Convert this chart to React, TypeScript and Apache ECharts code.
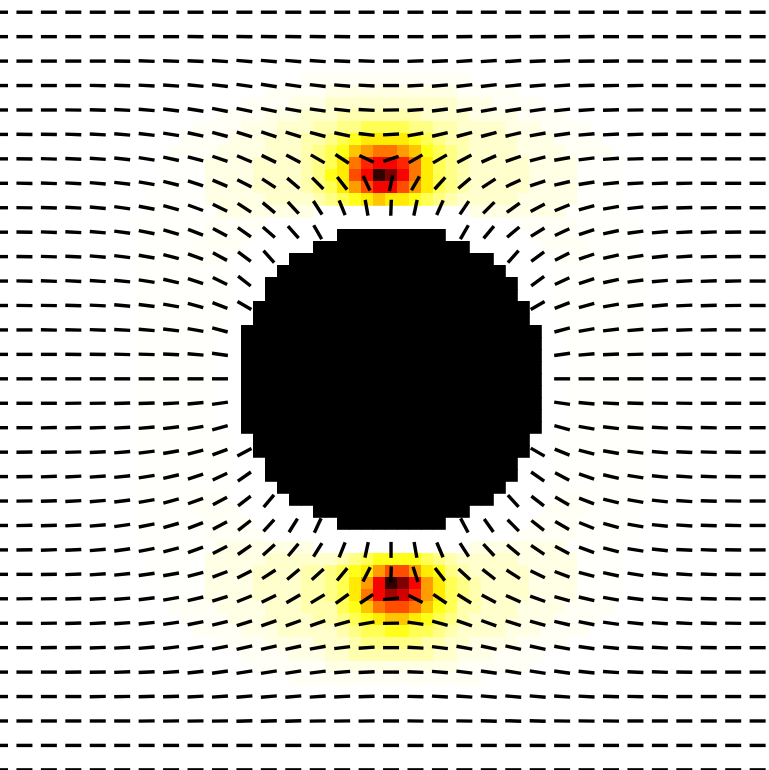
import { useEffect, useRef } from 'react';
import * as echarts from 'echarts';

// ---------- heat field (64 x 64 cells), run-length rows: "n*c" or literal chars ----------
// '.' = empty, 'o' faintest, '1'..'9','a'..'j' = increasing intensity, '#' = cylinder (maximum)
const heatRows: string[] = [
  '64*.', '64*.', '64*.', '64*.', '64*.', '64*.',
  '25*. 14*1 25*.',
  '22*. 5*1 11*2 5*1 21*.',
  '20*. 4*1 3*2 11*3 3*2 4*1 19*.',
  '18*. 4*1 3*2 333444444433332 3*2 4*1 17*.',
  '16*. 4*1 3*2 2*3 344556666554433 2*3 3*2 4*1 15*.',
  '15*. 4*1 3*2 3*3 445678888765443 3*3 3*2 4*1 14*.',
  '14*. 4*1 4*2 3*3 45679abba976543 3*3 4*2 4*1 13*.',
  '13*. 4*o 4*2 4*3 4568bdeedb86543 4*3 4*2 4*o 12*.',
  '13*. 4*o 4*2 4*3 4578cejheb86543 4*3 4*2 4*o 12*.',
  '12*. 5*o 4*2 4*3 4568aceeca86543 4*3 4*2 4*o 12*.',
  '12*. 5*o 5*2 3*3 345678988765433 3*3 5*2 4*o 12*.',
  '12*. 6*o 8*2 13*. 8*2 5*o 12*.',
  '11*. 6*o 5*1 21*. 5*1 5*o 11*.',
  '11*. 6*o 4*1 7*. 9*# 7*. 4*1 5*o 11*.',
  '11*. 5*o 4*1 6*. 13*# 6*. 4*1 4*o 11*.',
  '11*. 5*o 3*1 5*. 17*# 5*. 3*1 5*o 10*.',
  '11*. 8*o 4*. 19*# 4*. 8*o 10*.',
  '11*. 8*o 3*. 21*# 3*. 8*o 10*.',
  '11*. 8*o 3*. 21*# 3*. 8*o 10*.',
  '11*. 8*o 2*. 23*# 2*. 8*o 10*.',
  '11*. 8*o 2*. 23*# 2*. 8*o 10*.',
  '11*. 7*o 2*. 25*# 2*. 7*o 10*.',
  '11*. 7*o 2*. 25*# 2*. 7*o 10*.',
  '11*. 7*o 2*. 25*# 2*. 7*o 10*.',
  '11*. 7*o 2*. 25*# 2*. 7*o 10*.',
  '11*. 7*o 2*. 25*# 2*. 7*o 10*.',
  '11*. 7*o 2*. 25*# 2*. 7*o 10*.',
  '11*. 7*o 2*. 25*# 2*. 7*o 10*.',
  '11*. 7*o 2*. 25*# 2*. 7*o 10*.',
  '11*. 7*o 2*. 25*# 2*. 7*o 10*.',
  '11*. 8*o 2*. 23*# 2*. 8*o 10*.',
  '11*. 8*o 2*. 23*# 2*. 8*o 10*.',
  '11*. 8*o 3*. 21*# 3*. 8*o 10*.',
  '11*. 8*o 3*. 21*# 3*. 8*o 10*.',
  '11*. 8*o 4*. 19*# 4*. 8*o 10*.',
  '11*. 5*o 3*1 5*. 17*# 5*. 3*1 5*o 10*.',
  '11*. 5*o 4*1 6*. 13*# 6*. 4*1 4*o 11*.',
  '11*. 6*o 4*1 7*. 9*# 7*. 4*1 5*o 11*.',
  '11*. 6*o 5*1 21*. 5*1 5*o 11*.',
  '12*. 6*o 8*2 13*. 8*2 5*o 12*.',
  '12*. 5*o 5*2 3*3 333456777765433 3*3 5*2 4*o 12*.',
  '12*. 5*o 4*2 4*3 445678acca87543 4*3 4*2 4*o 12*.',
  '13*. 4*o 4*2 4*3 44568aejhea8654 4*3 4*2 4*o 12*.',
  '13*. 4*o 4*2 4*3 44568begfda8654 4*3 4*2 4*o 12*.',
  '14*. 4*1 4*2 3*3 444679bccb97644 3*3 4*2 4*1 13*.',
  '15*. 4*1 3*2 3*3 344567899876543 3*3 3*2 4*1 14*.',
  '16*. 4*1 3*2 2*3 333456677665433 2*3 3*2 4*1 15*.',
  '18*. 4*1 3*2 233345555544332 3*2 4*1 17*.',
  '20*. 4*1 3*2 2*3 7*4 2*3 3*2 4*1 19*.',
  '21*. 6*1 11*2 6*1 20*.',
  '24*. 16*1 24*.',
  '64*.', '64*.', '64*.', '64*.', '64*.', '64*.', '64*.',
];

const heatLevels: Record<string, number> = {
  o: 0.4, '1': 1, '2': 2.5, '3': 5, '4': 8, '5': 12, '6': 17, '7': 23, '8': 28, '9': 34,
  a: 40, b: 46, c: 52, d: 58, e: 64, f: 70, g: 76, h: 82, i: 88, j: 93, '#': 100,
};

// ---------- dash (director) angles, 32 rows x 32 columns, degrees, null = hidden ----------
const n = null;
const dashAngles: (number | null)[][] = [
  [0,0,0,0,0,0,0,0,0,0,0,0,0,0,0,0, 0, 0,0,0,0,0,0,0,0,0,0,0,0,0,0,0],
  [0,0,0,0,0,0,0,0,-1,-1,-1,-1,-1,-1,-1,0, 0, 0,1,1,1,1,1,1,1,0,0,0,0,0,0,0],
  [0,0,0,0,0,-1,-2,-2,-3,-4,-5,-5,-5,-4,-3,-2, 0, 2,3,4,4,4,3,2,1,1,0,0,0,0,0,0],
  [0,0,0,0,-1,-2,-3,-4,-6,-7,-8,-9,-8,-7,-5,-3, 0, 3,5,7,7,6,5,4,2,1,1,0,0,0,0,0],
  [0,0,0,-1,-2,-3,-5,-7,-9,-11,-12,-12,-10,-8,-6,-3, 1, 4,7,9,10,9,8,6,4,2,1,0,0,0,0,0],
  [0,-1,-1,-2,-3,-5,-7,-9,-12,-15,-17,-18,-17,-15,-12,-7, 3, 10,13,15,15,13,10,8,5,3,2,1,0,0,0,0],
  [0,-1,-2,-3,-4,-6,-9,-12,-15,-19,-23,-26,-28,-30,-33,-25, 18, 30,30,28,24,19,14,10,7,4,2,1,0,0,0,0],
  [0,-1,-2,-3,-5,-7,-10,-14,-18,-23,-27,-33,-40,-45,-52,-65, 78, 60,48,40,33,25,18,13,9,6,3,2,1,0,0,0],
  [0,-1,-2,-3,-5,-8,-11,-15,-20,-26,-33,-40,-47,-57,-68,-80, 88, 78,66,56,45,36,28,22,15,10,6,3,2,1,0,0],
  [0,-1,-2,-3,-5,-8,-11,-16,-21,-28,-35,-41,-48,-60,n,n, n, n,n,60,50,40,32,25,18,12,8,5,3,2,1,0],
  [0,-1,-2,-3,-5,-7,-10,-15,-20,-28,-37,-48,n,n,n,n, n, n,n,n,n,48,36,27,19,13,9,6,4,2,1,0],
  [0,-1,-2,-3,-4,-6,-9,-13,-18,-26,-38,n,n,n,n,n, n, n,n,n,n,n,36,25,18,12,8,5,3,2,1,0],
  [0,-1,-1,-2,-3,-5,-7,-10,-15,-21,-30,n,n,n,n,n, n, n,n,n,n,n,30,21,15,10,7,5,3,2,1,0],
  [0,0,-1,-1,-2,-3,-5,-7,-10,-15,n,n,n,n,n,n, n, n,n,n,n,n,n,15,10,7,5,3,2,1,0,0],
  [0,0,0,-1,-1,-2,-2,-3,-5,-8,n,n,n,n,n,n, n, n,n,n,n,n,n,8,5,3,2,1,1,0,0,0],
  [0,0,0,0,0,0,0,0,0,0,n,n,n,n,n,n, n, n,n,n,n,n,n,0,0,0,0,0,0,0,0,0],
  [0,0,0,1,1,2,2,3,5,8,n,n,n,n,n,n, n, n,n,n,n,n,n,-8,-5,-3,-2,-1,-1,0,0,0],
  [0,0,1,1,2,3,5,7,10,15,n,n,n,n,n,n, n, n,n,n,n,n,n,-15,-10,-7,-5,-3,-2,-1,0,0],
  [0,1,1,2,3,5,7,10,15,20,28,n,n,n,n,n, n, n,n,n,n,n,-30,-22,-15,-10,-7,-5,-3,-2,-1,0],
  [0,1,2,3,4,6,9,13,18,25,35,n,n,n,n,n, n, n,n,n,n,n,-35,-28,-19,-13,-9,-6,-4,-2,-1,0],
  [0,1,2,3,5,7,10,15,20,28,38,50,n,n,n,n, n, n,n,n,n,-48,-38,-30,-21,-14,-10,-6,-4,-2,-1,0],
  [0,1,2,3,5,8,11,16,21,28,38,48,58,65,n,n, n, n,n,-62,-55,-45,-38,-30,-22,-15,-10,-6,-4,-2,-1,0],
  [0,1,2,3,5,8,11,15,20,27,35,42,50,58,68,78, 90, -80,-67,-57,-47,-40,-34,-28,-20,-14,-9,-6,-3,-2,-1,0],
  [0,0,1,2,4,6,8,10,14,21,27,33,40,42,50,63, 88, -72,-52,-43,-38,-33,-26,-21,-15,-12,-9,-6,-4,-2,-1,0],
  [0,1,1,2,3,5,7,10,13,17,22,26,30,31,36,34, 6, -27,-34,-32,-28,-24,-20,-16,-13,-10,-7,-5,-3,-2,-1,0],
  [0,0,1,2,3,4,6,8,11,14,17,19,20,19,15,10, 1, -8,-15,-19,-20,-18,-16,-13,-11,-8,-6,-4,-3,-2,-1,0],
  [0,0,1,1,2,3,5,7,9,11,13,13,12,10,7,4, 0, -3,-7,-10,-12,-13,-12,-10,-8,-6,-4,-3,-2,-1,0,0],
  [0,0,0,1,1,2,3,4,6,8,9,9,9,7,5,3, 0, -2,-5,-7,-8,-9,-9,-8,-6,-4,-3,-2,-1,0,0,0],
  [0,0,0,0,1,1,2,2,3,4,5,5,5,4,3,2, 0, -1,-3,-4,-5,-5,-5,-4,-3,-2,-1,-1,0,0,0,0],
  [0,0,0,0,0,0,1,1,1,1,2,2,2,1,1,1, 0, -1,-1,-1,-2,-2,-2,-1,-1,-1,0,0,0,0,0,0],
  [0,0,0,0,0,0,0,0,0,0,0,0,0,0,0,0, 0, 0,0,0,0,0,0,0,0,0,0,0,0,0,0,0],
  [0,0,0,0,0,0,0,0,0,0,0,0,0,0,0,0, 0, 0,0,0,0,0,0,0,0,0,0,0,0,0,0,0],
];

// hot_r colour ramp, sampled every 5 %
const hotColors = [
  '#ffffff', '#ffffcd', '#ffff9a', '#ffff68', '#ffff36', '#ffff04', '#ffe000',
  '#ffbe00', '#ff9d00', '#ff7c00', '#ff5a00', '#ff3900', '#ff1700', '#f40000',
  '#d20000', '#ae0000', '#8c0000', '#690000', '#460000', '#230000', '#000000',
];

const CELL_COUNT = 64;
const DASH_SPACING = 24.44;
const DASH_LEN = 16;

function decodeRow(s: string): string {
  let out = '';
  for (const tok of s.split(' ')) {
    const k = tok.indexOf('*');
    if (k > 0) out += tok.slice(k + 1).repeat(parseInt(tok.slice(0, k), 10));
    else out += tok;
  }
  return out;
}

const heatData: number[][] = [];
heatRows.forEach((row, r) => {
  const s = decodeRow(row);
  for (let c = 0; c < Math.min(s.length, CELL_COUNT); c++) {
    const v = heatLevels[s[c]];
    if (v !== undefined) heatData.push([c, r, v]);
  }
});

const dashData: number[][] = [];
dashAngles.forEach((row, j) => {
  row.forEach((a, i) => {
    if (a !== null) dashData.push([i, j, a]);
  });
});

export default function App() {
  const ref = useRef<HTMLDivElement>(null);
  useEffect(() => {
    if (!ref.current) return;
    const chart = echarts.init(ref.current, undefined, { renderer: 'svg' });
    chart.setOption({
      animation: false,
      backgroundColor: '#ffffff',
      grid: [
        { left: 0, top: 0, width: 769, height: 770 },
        { left: 1, top: 1, width: 768, height: 768 },
      ],
      xAxis: [
        { type: 'value', gridIndex: 0, min: 0, max: 769 / DASH_SPACING, show: false, splitLine: { show: false } },
        { type: 'value', gridIndex: 1, min: 0, max: CELL_COUNT, show: false, splitLine: { show: false } },
      ],
      yAxis: [
        { type: 'value', gridIndex: 0, min: -0.5, max: 770 / DASH_SPACING - 0.5, inverse: true, show: false, splitLine: { show: false } },
        { type: 'value', gridIndex: 1, min: 0, max: CELL_COUNT, inverse: true, show: false, splitLine: { show: false } },
      ],
      visualMap: {
        type: 'continuous',
        show: false,
        min: 0,
        max: 100,
        seriesIndex: 0,
        dimension: 2,
        inRange: { color: hotColors },
      },
      series: [
        {
          type: 'custom',
          xAxisIndex: 1,
          yAxisIndex: 1,
          data: heatData,
          silent: true,
          clip: false,
          z: 1,
          renderItem: (params: any, api: any) => {
            const p = api.coord([api.value(0), api.value(1)]);
            const s = api.size([1, 1]);
            return {
              type: 'rect',
              shape: { x: Math.round(p[0]), y: Math.round(p[1]), width: Math.abs(s[0]) + 0.8, height: Math.abs(s[1]) + 0.8 },
              style: { fill: api.visual('color'), stroke: null },
            };
          },
        },
        {
          type: 'custom',
          xAxisIndex: 0,
          yAxisIndex: 0,
          data: dashData,
          silent: true,
          clip: false,
          z: 5,
          renderItem: (params: any, api: any) => {
            const p = api.coord([api.value(0), api.value(1)]);
            const a = (api.value(2) * Math.PI) / 180;
            const h = DASH_LEN / 2;
            const dx = Math.cos(a) * h;
            const dy = -Math.sin(a) * h;
            return {
              type: 'line',
              shape: { x1: p[0] - dx, y1: p[1] - dy, x2: p[0] + dx, y2: p[1] + dy },
              style: { stroke: '#000000', lineWidth: 3.4, lineCap: 'butt' },
            };
          },
        },
      ],
    });
    return () => chart.dispose();
  }, []);
  return (
    <div
      ref={ref}
      style={{ position: 'fixed', left: 0, top: 0, width: 769, height: 770, background: '#ffffff' }}
    />
  );
}
